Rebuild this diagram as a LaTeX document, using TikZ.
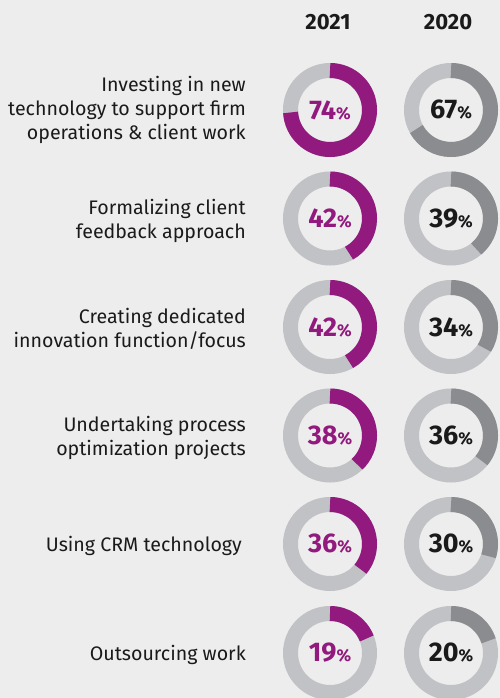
\documentclass[tikz,border=0pt]{standalone}
\usepackage{fontspec}
\setmainfont{Fira Sans}
\definecolor{bg}{HTML}{EDEDED}
\definecolor{purp}{HTML}{921A7E}
\definecolor{dgray}{HTML}{8A8C8F}
\definecolor{lgray}{HTML}{C1C2C5}
\definecolor{txt}{HTML}{1A1A1A}
\newcommand{\pctnum}[1]{{\fontsize{27}{27}\selectfont\bfseries #1}{\fontsize{17}{17}\selectfont\bfseries\%}}
\newcommand{\mydonut}[6]{%
  \draw[ring] (#2,#3) circle[radius=39.5];
  \draw[ring,draw=#5] (#2,#3) ++(90:39.5) arc[start angle=90, delta angle={-3.6*#4}, radius=39.5];
  \node[text=#6, inner sep=0] (#1) at (#2,#3) {\pctnum{#4}};
}
\begin{document}
\begin{tikzpicture}[x=1pt,y=1pt,
  lbl/.style={align=right, anchor=east, font=\fontsize{19.6}{24}\selectfont, text=txt, inner sep=0},
  hdr/.style={font=\fontsize{22}{22}\selectfont\bfseries, text=txt, inner sep=0},
  ring/.style={draw=lgray, line width=15pt}]
\fill[bg] (0,0) rectangle (500,-698);
\useasboundingbox (0,0) rectangle (500,-698);
\node[hdr] (h2021) at (328,-22) {2021};
\node[hdr] (h2020) at (448,-22) {2020};
% row 1
\node[lbl] (l1) at (246,-110) {Investing in new\\technology to support firm\\operations \& client work};
\mydonut{a1}{330}{-110}{74}{purp}{purp}
\mydonut{b1}{451}{-110}{67}{dgray}{txt}
% row 2
\node[lbl] (l2) at (246,-220.5) {Formalizing client\\feedback approach};
\mydonut{a2}{330}{-218.5}{42}{purp}{purp}
\mydonut{b2}{451}{-218.5}{39}{dgray}{txt}
% row 3
\node[lbl] (l3) at (246,-329) {Creating dedicated\\innovation function/focus};
\mydonut{a3}{330}{-327}{42}{purp}{purp}
\mydonut{b3}{451}{-327}{34}{dgray}{txt}
% row 4
\node[lbl] (l4) at (246,-437.5) {Undertaking process\\optimization projects};
\mydonut{a4}{330}{-435.5}{38}{purp}{purp}
\mydonut{b4}{451}{-435.5}{36}{dgray}{txt}
% row 5
\node[lbl] (l5) at (242,-545.5) {Using CRM technology};
\mydonut{a5}{330}{-544}{36}{purp}{purp}
\mydonut{b5}{451}{-544}{30}{dgray}{txt}
% row 6
\node[lbl] (l6) at (246,-654.5) {Outsourcing work};
\mydonut{a6}{330}{-653}{19}{purp}{purp}
\mydonut{b6}{451}{-653}{20}{dgray}{txt}
\end{tikzpicture}
\end{document}
